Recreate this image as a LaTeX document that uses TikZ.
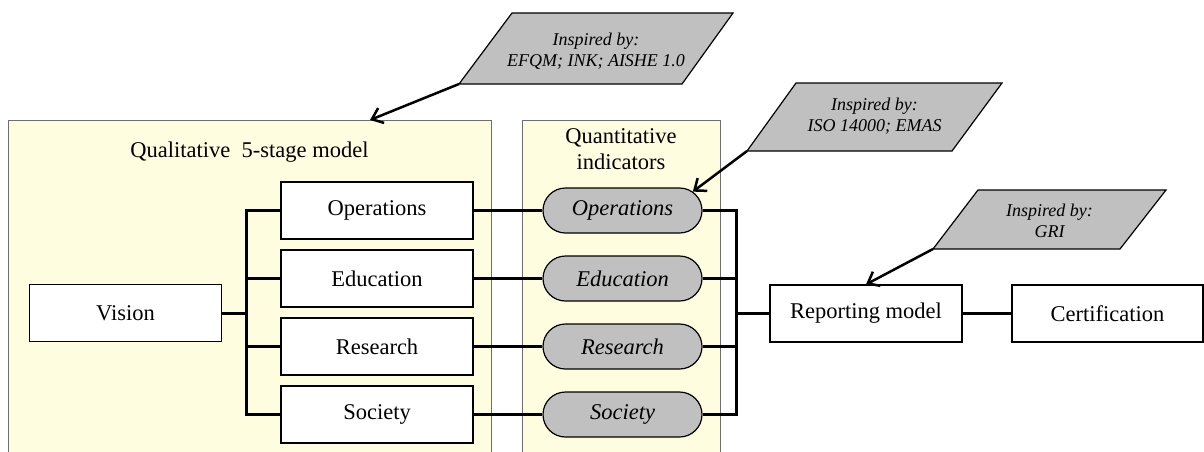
\documentclass[tikz,border=0pt]{standalone}
\usepackage{fontspec}
\setmainfont{Liberation Serif}
\usetikzlibrary{arrows.meta,shapes.misc}
\definecolor{panelfill}{RGB}{255,253,223}
\definecolor{panelline}{RGB}{110,110,110}
\definecolor{notefill}{RGB}{192,192,192}
\tikzset{
  panel/.style={draw=panelline, fill=panelfill, line width=1pt, inner sep=0pt},
  stagebox/.style={draw=black, fill=white, line width=1.2pt, minimum width=192pt,
    minimum height=57pt, inner sep=0pt, font=\fontsize{22.5}{26}\selectfont},
  pill/.style={rounded rectangle, draw=black, fill=notefill, line width=1.2pt,
    minimum width=159pt, minimum height=45pt, inner sep=0pt,
    font=\fontsize{22.5}{26}\selectfont\itshape},
  note/.style={draw=black, fill=notefill, line width=1.2pt, line join=miter},
  notetext/.style={align=center, inner sep=0pt, font=\fontsize{18}{20.5}\selectfont\itshape},
  paneltitle/.style={align=center, inner sep=0pt, font=\fontsize{22.5}{26}\selectfont},
  link/.style={line width=3pt},
  pointer/.style={line width=2.5pt, -{Straight Barb[length=10pt,width=16pt,line width=2.5pt]}},
}
\begin{document}
\begin{tikzpicture}[x=1pt,y=-1pt]
  \clip (0,0) rectangle (1204,451);

  % background panels
  \node[panel, minimum width=483pt, minimum height=345pt, anchor=north west] (qual) at (8,120) {};
  \node[panel, minimum width=198pt, minimum height=345pt, anchor=north west] (quant) at (522,120) {};
  \node[paneltitle] (qualtitle) at (249.5,152) {Qualitative~ 5-stage model};
  \node[paneltitle] (quanttitle) at (621,149) {Quantitative\\indicators};

  % qualitative stages
  \node[stagebox] (vis) at (125.5,313) {Vision};
  \node[stagebox] (ops) at (377,210.5) {Operations};
  \node[stagebox] (edu) at (377,278.5) {Education};
  \node[stagebox] (res) at (377,346.5) {Research};
  \node[stagebox] (soc) at (377,414.5) {Society};

  % quantitative indicators
  \node[pill] (opsi) at (622.5,210.5) {Operations};
  \node[pill] (edui) at (622.5,278.5) {Education};
  \node[pill] (resi) at (622.5,346.5) {Research};
  \node[pill] (soci) at (622.5,414.5) {Society};

  % reporting chain
  \node[stagebox] (rep) at (866,313.5) {Reporting model};
  \node[stagebox, minimum width=191pt] (cert) at (1107.5,313.5) {Certification};

  % left bus
  \draw[link] (ops.west) -- ++(-34,0) coordinate (lbus) |- (soc.west);
  \draw[link] (edu.west) -- (edu.west -| lbus);
  \draw[link] (res.west) -- (res.west -| lbus);
  \draw[link] (vis.east) -- (vis.east -| lbus);

  % stage to indicator links
  \draw[link] (ops.east) -- (opsi.west);
  \draw[link] (edu.east) -- (edui.west);
  \draw[link] (res.east) -- (resi.west);
  \draw[link] (soc.east) -- (soci.west);

  % right bus
  \draw[link] (opsi.east) -- ++(34,0) coordinate (rbus) |- (soci.east);
  \draw[link] (edui.east) -- (edui.east -| rbus);
  \draw[link] (resi.east) -- (resi.east -| rbus);
  \draw[link] (rep.west) -- (rep.west -| rbus);
  \draw[link] (rep.east) -- (cert.west);

  % inspiration notes
  \draw[note] (459,84) coordinate (n1) -- (682,84) -- (733,13) -- (512,13) -- cycle;
  \node[notetext] (n1t) at (596,51) {Inspired by:\\EFQM; INK; AISHE 1.0};
  \draw[note] (747,151) coordinate (n2) -- (952,151) -- (1002,83) -- (796,83) -- cycle;
  \node[notetext] (n2t) at (874.5,116) {Inspired by:\\ISO 14000; EMAS};
  \draw[note] (933,249) coordinate (n3) -- (1120,249) -- (1166,190) -- (978,190) -- cycle;
  \node[notetext] (n3t) at (1049.5,221) {Inspired by:\\GRI};

  \draw[pointer] (n1) -- ([xshift=362pt]qual.north west);
  \draw[pointer] (n2) -- (opsi.15);
  \draw[pointer] (n3) -- (rep.north);
\end{tikzpicture}
\end{document}
